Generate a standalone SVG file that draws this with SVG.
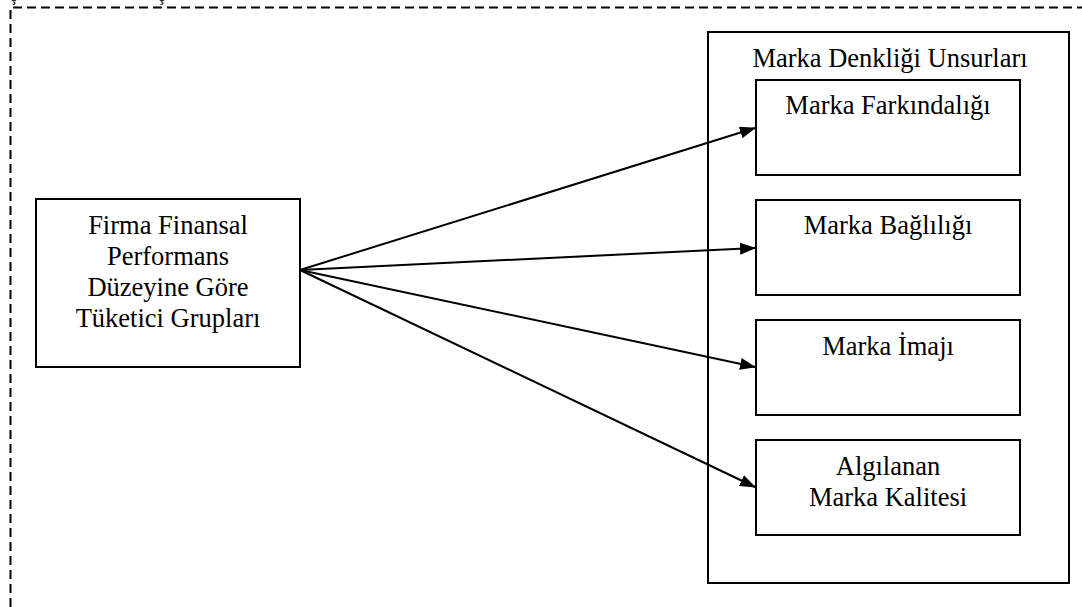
<svg xmlns="http://www.w3.org/2000/svg" width="1082" height="607" viewBox="0 0 1082 607">
  <style>
    .box { fill: #fff; stroke: #000; stroke-width: 2; }
    .frame { fill: none; stroke: #000; stroke-width: 2; }
    .t { font-family: "Liberation Serif", "Times New Roman", serif; font-size: 26.5px; fill: #000; text-anchor: middle; }
    .frag { font-family: "Liberation Serif", "Times New Roman", serif; font-size: 16px; fill: #000; }
    .conn { stroke: #000; stroke-width: 2; fill: none; marker-end: url(#arrow); }
  </style>
  <defs>
    <marker id="arrow" viewBox="0 0 16 12" refX="15" refY="6" markerWidth="16" markerHeight="12" markerUnits="userSpaceOnUse" orient="auto">
      <path d="M0,0 L16,6 L0,12 Z" fill="#000"/>
    </marker>
  </defs>
  <rect width="1082" height="607" fill="#fff"/>
  <g id="dashed-frame">
    <path d="M10.5,607 V7.5 H1082" fill="none" stroke="#000" stroke-width="2" stroke-dasharray="9,5"/>
    <text class="frag" x="11" y="1">ş</text>
    <text class="frag" x="159" y="1">ş</text>
  </g>
  <g id="source">
    <rect class="box" x="36" y="199" width="264" height="168"/>
    <text class="t" x="168" y="234">Firma Finansal</text>
    <text class="t" x="168" y="265">Performans</text>
    <text class="t" x="168" y="296">Düzeyine Göre</text>
    <text class="t" x="168" y="327">Tüketici Grupları</text>
  </g>
  <g id="container">
    <rect class="frame" x="708" y="32" width="361" height="551"/>
    <text class="t" x="890" y="67">Marka Denkliği Unsurları</text>
  </g>
  <g id="farkindalik">
    <rect class="box" x="756" y="80" width="264" height="95"/>
    <text class="t" x="888" y="114">Marka Farkındalığı</text>
  </g>
  <g id="baglilik">
    <rect class="box" x="756" y="200" width="264" height="95"/>
    <text class="t" x="888" y="234">Marka Bağlılığı</text>
  </g>
  <g id="imaj">
    <rect class="box" x="756" y="320" width="264" height="95"/>
    <text class="t" x="888" y="355">Marka İmajı</text>
  </g>
  <g id="kalite">
    <rect class="box" x="756" y="440" width="264" height="95"/>
    <text class="t" x="888" y="475">Algılanan</text>
    <text class="t" x="888" y="506">Marka Kalitesi</text>
  </g>
  <g id="connectors">
    <line class="conn" x1="300" y1="270" x2="755" y2="128"/>
    <line class="conn" x1="300" y1="270" x2="755" y2="248"/>
    <line class="conn" x1="300" y1="270" x2="755" y2="367"/>
    <line class="conn" x1="300" y1="270" x2="755" y2="487"/>
  </g>
</svg>
